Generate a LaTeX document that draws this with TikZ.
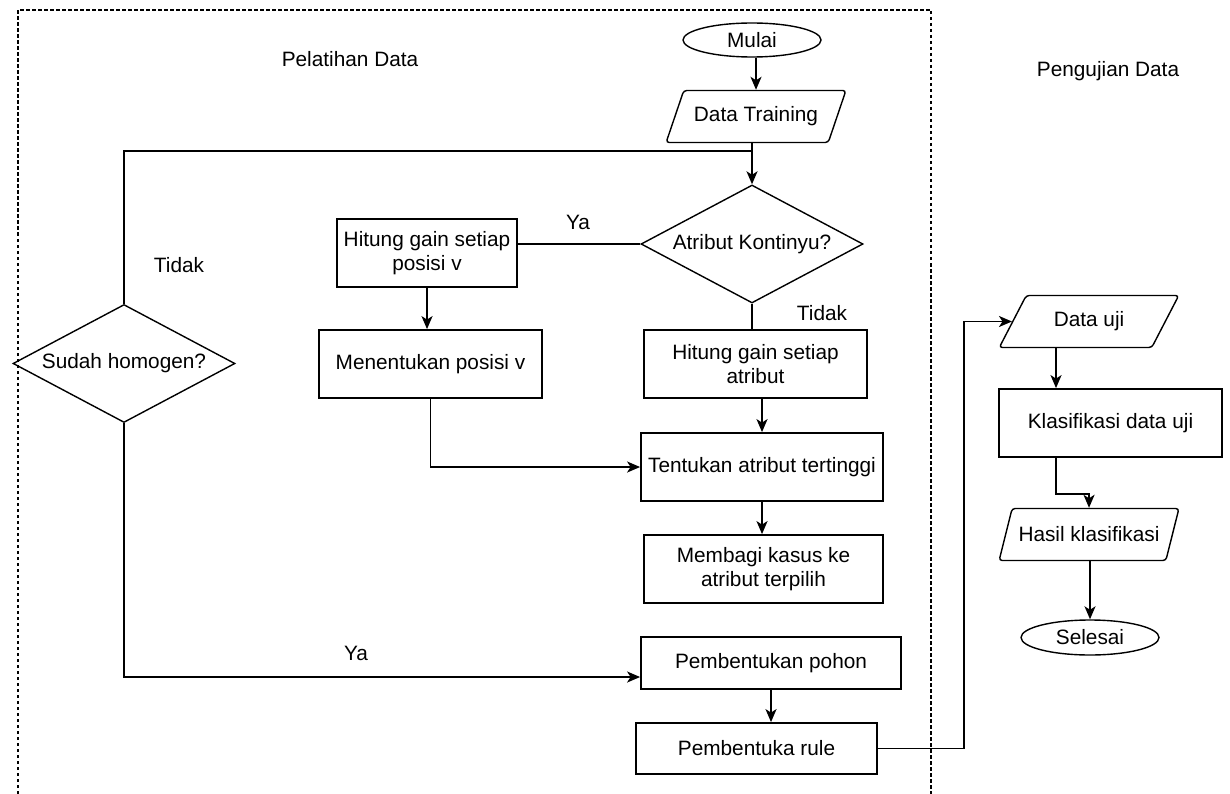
\documentclass[tikz,border=0pt]{standalone}
\usepackage{fontspec}
\setmainfont{Liberation Sans}
\usepackage{tikz}
\usetikzlibrary{shapes.geometric,arrows.meta}

\tikzset{
  box/.style={draw, line width=1.8pt, rectangle, align=center, inner sep=0pt},
  term/.style={draw, line width=1.4pt, ellipse, inner sep=0pt, minimum width=138pt, minimum height=34pt},
  io/.style={draw, line width=1.4pt, trapezium, trapezium left angle=52, trapezium right angle=128,
    trapezium stretches=true, rounded corners=3pt, inner sep=0pt, minimum width=180pt, minimum height=52pt},
  ask/.style={draw, line width=1.4pt, diamond, aspect=1.87, inner sep=0pt, minimum width=222pt, minimum height=118pt},
  arr/.style={line width=1.8pt, -{Stealth[length=13pt,width=11pt,inset=3.5pt]}},
  wire/.style={line width=1.8pt},
  lbl/.style={inner sep=0pt}
}

\begin{document}
\begin{tikzpicture}[x=1pt, y=-1pt, font=\fontsize{20.8}{23.5}\selectfont]

    \useasboundingbox (0,0) rectangle (1230,794);

    % Frame of the training part
    \draw[line width=1.6pt, dash pattern=on 3.5pt off 2.5pt] (18,794) -- (18,10) -- (931,10) -- (931,794);

    % Titles
    \node[lbl] (ttrain) at (350,59) {Pelatihan Data};
    \node[lbl] (ttest) at (1108,71) {Pengujian Data};

    % Training flow
    \node[term] (mulai) at (752,40) {Mulai};
    \node[io] (train) at (756,116.5) {Data Training};
    \node[ask] (kont) at (752,244) {Atribut Kontinyu?};
    \node[box, minimum width=180pt, minimum height=68pt] (hpos) at (427,253) {Hitung gain setiap\\posisi v};
    \node[box, minimum width=223pt, minimum height=68pt] (mpos) at (430.5,364) {Menentukan posisi v};
    \node[box, minimum width=223pt, minimum height=68pt] (hatr) at (755.5,364) {Hitung gain setiap\\atribut};
    \node[box, minimum width=242pt, minimum height=68pt] (tent) at (762,467) {Tentukan atribut tertinggi};
    \node[box, minimum width=239pt, minimum height=68pt] (bagi) at (763.5,569) {Membagi kasus ke\\atribut terpilih};
    \node[ask] (homog) at (124,363.5) {Sudah homogen?};
    \node[box, minimum width=260pt, minimum height=52pt] (pohon) at (771,663) {Pembentukan pohon};
    \node[box, minimum width=241pt, minimum height=51pt] (rule) at (756.5,748.5) {Pembentuka rule};

    % Testing flow
    \node[io] (uji) at (1089,321.5) {Data uji};
    \node[box, minimum width=223pt, minimum height=68pt] (klas) at (1110.5,423) {Klasifikasi data uji};
    \node[io] (hasil) at (1089,534.5) {Hasil klasifikasi};
    \node[term, minimum height=35pt] (selesai) at (1090,637.5) {Selesai};

    % Branch labels
    \node[lbl] (ya1) at (578,222) {Ya};
    \node[lbl] (tidak1) at (822,313) {Tidak};
    \node[lbl] (tidak2) at (179,265) {Tidak};
    \node[lbl] (ya2) at (356,653) {Ya};

    % Connectors
    \coordinate (loop) at (752,151);
    \coordinate (bend) at (964,748.5);
    \draw[arr] (mulai.south -| train.north) -- (train.north);
    \draw[arr] (train.south -| kont.north) -- (kont.north);
    \draw[wire] (homog.north) |- (loop);
    \draw[wire] (kont.west) -- (kont.west -| hpos.east);
    \draw[arr] (hpos.south) -- (hpos.south |- mpos.north);
    \draw[wire] (kont.south) -- (kont.south |- hatr.north);
    \draw[arr] (hatr.south -| tent.north) -- (tent.north);
    \draw[arr] (mpos.south) |- (tent.west);
    \draw[arr] (tent.south) -- (tent.south |- bagi.north);
    \draw[arr] (homog.south) |- ([yshift=-14pt]pohon.west);
    \draw[arr] (pohon.south) -- (pohon.south |- rule.north);
    \draw[arr] (rule.east) -- (bend) |- (uji.west);
    \draw[arr] ([xshift=-33pt]uji.south) -- ([xshift=-33pt]uji.south |- klas.north);
    \draw[arr] ([xshift=-54.5pt]klas.south) -- ++(0,36) -| (hasil.north);
    \draw[arr] (hasil.south -| selesai.north) -- (selesai.north);

\end{tikzpicture}
\end{document}
